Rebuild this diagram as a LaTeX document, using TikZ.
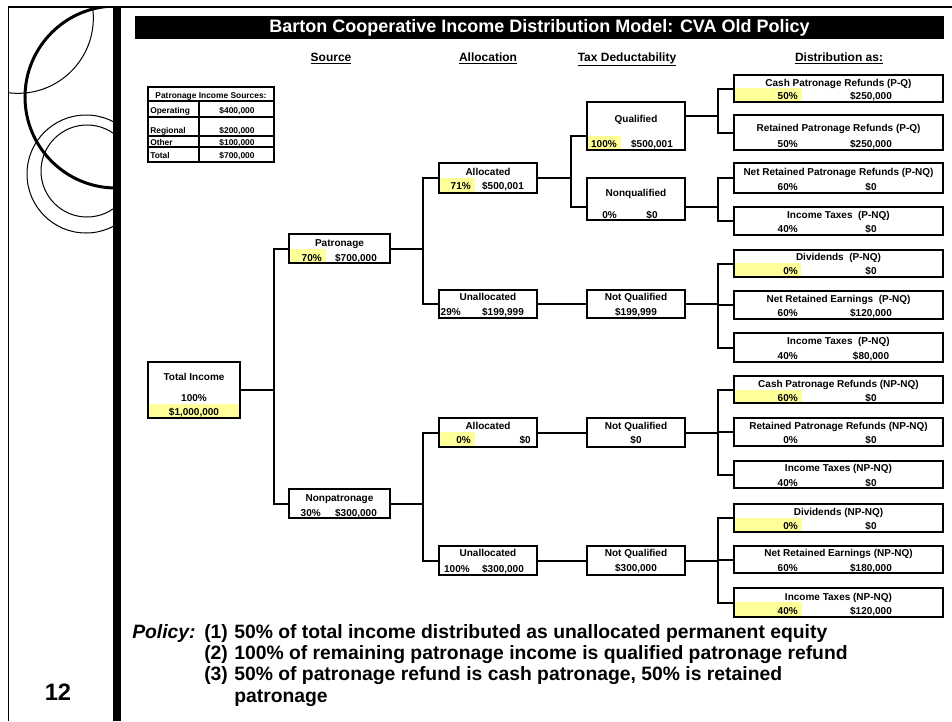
\documentclass[tikz,border=0pt]{standalone}
\usepackage{fontspec}
\setmainfont{Liberation Sans}
\definecolor{hl}{RGB}{255,255,153}
\newcommand\fsbox{\fontsize{7.5pt}{9pt}\selectfont\bfseries}
\newcommand\fstab{\fontsize{6.3pt}{7.5pt}\selectfont\bfseries}
\newcommand\fshead{\fontsize{9pt}{11pt}\selectfont\bfseries}
\newcommand\fstitle{\fontsize{13.5pt}{16pt}\selectfont\bfseries}
\newcommand\fspol{\fontsize{14.5pt}{17pt}\selectfont\bfseries}
\newcommand\mkbox[5]{\node[boxst, minimum width={(#4-#2)*0.75pt}, minimum height={(#5-#3)*0.75pt}] (#1) at ({(#2+#4)/2},{(#3+#5)/2}) {};}
\newcommand\hlr[4]{\fill[hl] (#1,#2) rectangle (#3,#4);}
\tikzset{
  boxst/.style={draw, line width=1.5pt, inner sep=0pt, outer sep=0pt},
  conn/.style={line width=1.5pt},
  tx/.style={inner sep=0pt, font=\fsbox, text height=0.72em, text depth=0pt},
  tt/.style={inner sep=0pt, font=\fstab, text height=0.72em, text depth=0pt},
  hd/.style={inner sep=0pt, font=\fshead, anchor=base},
  pol/.style={inner sep=0pt, font=\fspol, anchor=base west},
}
\begin{document}
\begin{tikzpicture}[x=0.75pt,y=-0.75pt]
\useasboundingbox (0,0) rectangle (952,721);
% ---- left panel ----
\begin{scope}
\clip (8,7) rectangle (113,721);
\draw[line width=2.25pt] (116,97) circle[radius=68.25pt];
\draw[line width=0.75pt] (18,18) circle[radius=56.5pt];
\draw[line width=0.75pt] (86,174) circle[radius=44.25pt];
\draw[line width=0.75pt] (87,171) circle[radius=34.5pt];
\end{scope}
\draw[line width=0.75pt] (8,7) -- (8,721);
\fill (113,7) rectangle (121,721);
\draw[line width=1.9pt] (8,7) -- (952,7);
\node[inner sep=0pt, font=\fontsize{17.8pt}{20pt}\selectfont\bfseries, text height=0.72em, text depth=0pt] (pagenum) at (58,696) {12};
% ---- title ----
\fill (135,16) rectangle (944,39);
\node[inner sep=0pt, font=\fstitle, text=white, text height=0.72em, text depth=0pt] (title) at (539.5,27.5) {Barton Cooperative Income Distribution Model: CVA Old Policy};
\node[hd] (h1) at (331,61) {\underline{Source}};
\node[hd] (h2) at (488,61) {\underline{Allocation}};
\node[hd] (h3) at (627,61) {\underline{Tax Deductability}};
\node[hd] (h4) at (839,61) {\underline{Distribution as:}};
% ---- small table ----
\node[draw, line width=1.2pt, minimum width={126*0.75pt}, minimum height={75*0.75pt}, inner sep=0pt] (tbl) at (211,124.5) {};
\draw[line width=1.2pt] (tbl.west |- 0,101) -- (tbl.east |- 0,101);
\draw[line width=1.2pt] (tbl.west |- 0,117) -- (tbl.east |- 0,117);
\draw[line width=1.2pt] (tbl.west |- 0,136) -- (tbl.east |- 0,136);
\draw[line width=1.2pt] (tbl.west |- 0,147) -- (tbl.east |- 0,147);
\draw[line width=1.2pt] (199,101) -- (tbl.south -| 199,0);
\node[tt] (tb0) at (211,94) {Patronage Income Sources:};
\node[tt, anchor=west] (tb1) at (150,109) {Operating};
\node[tt] (tb1v) at (237,109) {\$400,000};
\node[tt, anchor=west] (tb2) at (150,129) {Regional};
\node[tt] (tb2v) at (237,129) {\$200,000};
\node[tt, anchor=west] (tb3) at (150,141) {Other};
\node[tt] (tb3v) at (237,141) {\$100,000};
\node[tt, anchor=west] (tb4) at (150,154) {Total};
\node[tt] (tb4v) at (237,154) {\$700,000};
% ---- highlights ----
\hlr{148}{404}{240}{418}
\hlr{289}{249}{326}{263}
\hlr{439}{178}{475}{193}
\hlr{439}{432}{475}{447}
\hlr{587}{136}{621}{150}
\hlr{734}{88}{802}{102}
\hlr{734}{263}{801}{277}
\hlr{734}{390}{802}{403}
\hlr{734}{518}{802}{532}
\hlr{734}{602}{802}{617}
% ---- boxes ----
\mkbox{ti}{148}{362}{240}{418}
\mkbox{pat}{289}{234}{390}{263}
\mkbox{non}{289}{489}{390}{518}
\mkbox{alA}{439}{163}{537}{193}
\mkbox{unA}{439}{290}{537}{318}
\mkbox{alB}{439}{418}{537}{447}
\mkbox{unB}{439}{546}{537}{575}
\mkbox{q}{587}{102}{685}{150}
\mkbox{nq}{587}{178}{685}{220}
\mkbox{nqA}{587}{290}{685}{318}
\mkbox{nqB}{587}{418}{685}{447}
\mkbox{nqC}{587}{546}{685}{575}
\mkbox{d1}{734}{75}{943}{102}
\mkbox{d2}{734}{115}{943}{150}
\mkbox{d3}{734}{163}{943}{193}
\mkbox{d4}{734}{207}{943}{235}
\mkbox{d5}{734}{250}{943}{277}
\mkbox{d6}{734}{291}{943}{319}
\mkbox{d7}{734}{333}{943}{362}
\mkbox{d8}{734}{376}{943}{403}
\mkbox{d9}{734}{418}{943}{446}
\mkbox{d10}{734}{461}{943}{488}
\mkbox{d11}{734}{504}{943}{532}
\mkbox{d12}{734}{546}{943}{573}
\mkbox{d13}{734}{588}{943}{617}
% ---- box texts ----
\node[tx] (ti-a) at (194,376) {Total Income};
\node[tx] (ti-b) at (194,397) {100\%};
\node[tx] (ti-c) at (194,411) {\$1,000,000};
\node[tx] (pat-a) at (339.5,242) {Patronage};
\node[tx, anchor=east] (pat-b) at (322,257) {70\%};
\node[tx] (pat-c) at (356,257) {\$700,000};
\node[tx] (non-a) at (339.5,497) {Nonpatronage};
\node[tx, anchor=east] (non-b) at (321,512) {30\%};
\node[tx] (non-c) at (356,512) {\$300,000};
\node[tx] (alA-a) at (488,171) {Allocated};
\node[tx, anchor=east] (alA-b) at (471,185) {71\%};
\node[tx] (alA-c) at (503,185) {\$500,001};
\node[tx] (unA-a) at (488,296) {Unallocated};
\node[tx, anchor=east] (unA-b) at (461,311) {29\%};
\node[tx] (unA-c) at (503,311) {\$199,999};
\node[tx] (alB-a) at (488,425) {Allocated};
\node[tx, anchor=east] (alB-b) at (471,439) {0\%};
\node[tx, anchor=east] (alB-c) at (531,439) {\$0};
\node[tx] (unB-a) at (488,552) {Unallocated};
\node[tx, anchor=east] (unB-b) at (470,568) {100\%};
\node[tx] (unB-c) at (503,568) {\$300,000};
\node[tx] (q-a) at (636,118) {Qualified};
\node[tx, anchor=east] (q-b) at (617,143) {100\%};
\node[tx] (q-c) at (652,143) {\$500,001};
\node[tx] (nq-a) at (636,192) {Nonqualified};
\node[tx, anchor=east] (nq-b) at (617,214) {0\%};
\node[tx] (nq-c) at (652,214) {\$0};
\node[tx] (nqA-a) at (636,296) {Not Qualified};
\node[tx] (nqA-b) at (636,311) {\$199,999};
\node[tx] (nqB-a) at (636,425) {Not Qualified};
\node[tx] (nqB-b) at (636,439) {\$0};
\node[tx] (nqC-a) at (636,552) {Not Qualified};
\node[tx] (nqC-b) at (636,567) {\$300,000};
% distribution texts
\foreach \nm/\ty/\py/\ttl/\pc/\am in {
  d1/82/95/{Cash Patronage Refunds (P-Q)}/{50\%}/{\$250,000},
  d2/127/143/{Retained Patronage Refunds (P-Q)}/{50\%}/{\$250,000},
  d3/171/186/{Net Retained Patronage Refunds (P-NQ)}/{60\%}/{\$0},
  d4/214/228/{Income Taxes\ \ (P-NQ)}/{40\%}/{\$0},
  d5/256/270/{Dividends\ \ (P-NQ)}/{0\%}/{\$0},
  d6/298/312/{Net Retained Earnings\ \ (P-NQ)}/{60\%}/{\$120,000},
  d7/340/355/{Income Taxes\ \ (P-NQ)}/{40\%}/{\$80,000},
  d8/383/397/{Cash Patronage Refunds (NP-NQ)}/{60\%}/{\$0},
  d9/425/439/{Retained Patronage Refunds (NP-NQ)}/{0\%}/{\$0},
  d10/467/482/{Income Taxes (NP-NQ)}/{40\%}/{\$0},
  d11/511/525/{Dividends (NP-NQ)}/{0\%}/{\$0},
  d12/552/567/{Net Retained Earnings (NP-NQ)}/{60\%}/{\$180,000},
  d13/596/610/{Income Taxes (NP-NQ)}/{40\%}/{\$120,000}}{
  \node[tx] (\nm-a) at (838.5,\ty) {\ttl};
  \node[tx, anchor=east] (\nm-b) at (798,\py) {\pc};
  \node[tx] (\nm-c) at (871,\py) {\am};
}
% ---- connectors ----
\coordinate (T1) at (274,0);
\coordinate (T2) at (423,0);
\coordinate (T3) at (571,0);
\coordinate (T4) at (718,0);
\draw[conn] (ti.east) -- (ti.east -| T1);
\draw[conn] (pat.west) -- (pat.west -| T1) -- (non.west -| T1) -- (non.west);
\draw[conn] (pat.east) -- (pat.east -| T2);
\draw[conn] (alA.west) -- (alA.west -| T2) -- (unA.west -| T2) -- (unA.west);
\draw[conn] (non.east) -- (non.east -| T2);
\draw[conn] (alB.west) -- (alB.west -| T2) -- (unB.west -| T2) -- (unB.west);
\coordinate (qin) at ([yshift=-7.5pt]q.west);
\coordinate (qout) at ([yshift=7.5pt]q.east);
\coordinate (nqin) at ([yshift=-6pt]nq.west);
\coordinate (nqout) at ([yshift=-6pt]nq.east);
\draw[conn] (alA.east) -- (alA.east -| T3);
\draw[conn] (qin) -- (qin -| T3) -- (nqin -| T3) -- (nqin);
\draw[conn] (unA.east) -- (nqA.west);
\draw[conn] (alB.east) -- (nqB.west);
\draw[conn] (unB.east) -- (nqC.west);
\draw[conn] (qout) -- (qout -| T4);
\draw[conn] (d1.west) -- (d1.west -| T4) -- (d2.west -| T4) -- (d2.west);
\draw[conn] (nqout) -- (nqout -| T4);
\draw[conn] (d3.west) -- (d3.west -| T4) -- (d4.west -| T4) -- (d4.west);
\draw[conn] (nqA.east) -- (nqA.east -| T4);
\draw[conn] (d5.west) -- (d5.west -| T4) -- (d7.west -| T4) -- (d7.west);
\draw[conn] (d6.west -| T4) -- (d6.west);
\draw[conn] (nqB.east) -- (nqB.east -| T4);
\draw[conn] (d8.west) -- (d8.west -| T4) -- (d10.west -| T4) -- (d10.west);
\draw[conn] (d9.west -| T4) -- (d9.west);
\draw[conn] (nqC.east) -- (nqC.east -| T4);
\draw[conn] (d11.west) -- (d11.west -| T4) -- (d13.west -| T4) -- (d13.west);
\draw[conn] (d12.west -| T4) -- (d12.west);
% ---- policy ----
\node[pol] (p0) at (132,638) {\itshape Policy:};
\node[pol] (p1n) at (204,638) {(1)};
\node[pol] (p1) at (234,638) {50\% of total income distributed as unallocated permanent equity};
\node[pol] (p2n) at (204,659) {(2)};
\node[pol] (p2) at (234,659) {100\% of remaining patronage income is qualified patronage refund};
\node[pol] (p3n) at (204,680) {(3)};
\node[pol] (p3) at (234,680) {50\% of patronage refund is cash patronage, 50\% is retained};
\node[pol] (p4) at (234,702) {patronage};
\end{tikzpicture}
\end{document}
